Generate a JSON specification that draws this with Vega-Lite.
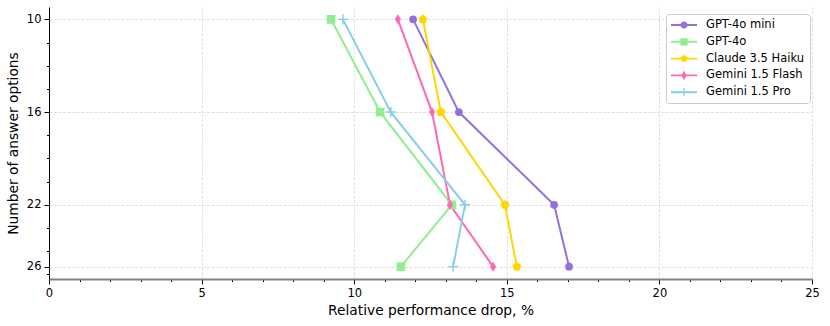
{
  "$schema": "https://vega.github.io/schema/vega-lite/v6.json",
  "width": 763,
  "height": 272,
  "autosize": {"type": "none"},
  "padding": {"left": 49, "top": 7, "right": 18, "bottom": 47},
  "background": "white",
  "config": {
    "view": {"stroke": null},
    "font": "DejaVu Sans",
    "axis": {
      "labelFont": "DejaVu Sans",
      "labelFontSize": 11.5,
      "labelColor": "#000000",
      "titleFont": "DejaVu Sans",
      "titleFontSize": 13.8,
      "titleFontWeight": "normal",
      "titleColor": "#000000",
      "tickColor": "#000000",
      "gridColor": "#dedede",
      "gridDash": [3, 1.5],
      "gridWidth": 0.9
    }
  },
  "data": {
    "values": [
      {"model": "GPT-4o mini", "options": 10, "drop": 11.93},
      {"model": "GPT-4o mini", "options": 16, "drop": 13.43},
      {"model": "GPT-4o mini", "options": 22, "drop": 16.55},
      {"model": "GPT-4o mini", "options": 26, "drop": 17.04},
      {"model": "GPT-4o", "options": 10, "drop": 9.24},
      {"model": "GPT-4o", "options": 16, "drop": 10.85},
      {"model": "GPT-4o", "options": 22, "drop": 13.2},
      {"model": "GPT-4o", "options": 26, "drop": 11.53},
      {"model": "Claude 3.5 Haiku", "options": 10, "drop": 12.25},
      {"model": "Claude 3.5 Haiku", "options": 16, "drop": 12.84},
      {"model": "Claude 3.5 Haiku", "options": 22, "drop": 14.94},
      {"model": "Claude 3.5 Haiku", "options": 26, "drop": 15.33},
      {"model": "Gemini 1.5 Flash", "options": 10, "drop": 11.43},
      {"model": "Gemini 1.5 Flash", "options": 16, "drop": 12.55},
      {"model": "Gemini 1.5 Flash", "options": 22, "drop": 13.14},
      {"model": "Gemini 1.5 Flash", "options": 26, "drop": 14.55},
      {"model": "Gemini 1.5 Pro", "options": 10, "drop": 9.63},
      {"model": "Gemini 1.5 Pro", "options": 16, "drop": 11.2},
      {"model": "Gemini 1.5 Pro", "options": 22, "drop": 13.63},
      {"model": "Gemini 1.5 Pro", "options": 26, "drop": 13.24}
    ]
  },
  "encoding": {
    "x": {
      "field": "drop",
      "type": "quantitative",
      "title": "Relative performance drop, %",
      "scale": {"domain": [0, 25], "nice": false, "zero": false},
      "axis": {
        "values": [0,1,2,3,4,5,6,7,8,9,10,11,12,13,14,15,16,17,18,19,20,21,22,23,24,25],
        "labelExpr": "datum.value % 5 === 0 ? datum.label : ''",
        "tickSize": {"condition": {"test": "datum.value % 5 === 0", "value": 5}, "value": 2.5},
        "gridOpacity": {"condition": {"test": "datum.value % 5 === 0", "value": 1}, "value": 0},
        "domainColor": "#808080",
        "domainWidth": 2.2,
        "labelPadding": 3,
        "titlePadding": 5,
        "labelFlush": false,
        "labelOverlap": false
      }
    },
    "y": {
      "field": "options",
      "type": "quantitative",
      "title": "Number of answer options",
      "scale": {"domain": [9.2, 26.8], "nice": false, "zero": false, "reverse": true},
      "axis": {
        "values": [10, 11.5, 13, 14.5, 16, 17.5, 19, 20.5, 22, 23.5, 25, 26, 26.5],
        "labelExpr": "(datum.value === 10 || datum.value === 16 || datum.value === 22 || datum.value === 26) ? datum.label : ''",
        "tickSize": {"condition": {"test": "datum.value === 10 || datum.value === 16 || datum.value === 22 || datum.value === 26", "value": 5}, "value": 2.5},
        "gridOpacity": {"condition": {"test": "datum.value === 10 || datum.value === 16 || datum.value === 22 || datum.value === 26", "value": 1}, "value": 0},
        "domainColor": "#000000",
        "domainWidth": 1,
        "labelPadding": 3,
        "titlePadding": 6,
        "labelOverlap": false,
        "labelFlush": false
      }
    },
    "color": {
      "field": "model",
      "type": "nominal",
      "scale": {
        "domain": ["GPT-4o mini", "GPT-4o", "Claude 3.5 Haiku", "Gemini 1.5 Flash", "Gemini 1.5 Pro"],
        "range": ["#9370DB", "#90EE90", "#FFD700", "#FF69B4", "#87CEEB"]
      },
      "legend": {
        "title": null,
        "orient": "none",
        "legendX": 617,
        "legendY": 7,
        "padding": 5,
        "strokeColor": "#cccccc",
        "fillColor": "white",
        "cornerRadius": 3,
        "labelFont": "DejaVu Sans",
        "labelFontSize": 11.5,
        "labelColor": "#000000",
        "symbolSize": 144,
        "symbolOffset": 7,
        "labelOffset": 16,
        "rowPadding": 4.8,
        "encode": {
          "symbols": {
            "update": {
              "shape": {"signal": "datum.value === 'GPT-4o mini' ? 'M-2.17,-0.16H2.17V0.16H-2.17ZM0.6,0A0.6,0.6 0 1,1 -0.6,0A0.6,0.6 0 1,1 0.6,0Z' : datum.value === 'GPT-4o' ? 'M-2.17,-0.16H2.17V0.16H-2.17ZM-0.6,-0.6H0.6V0.6H-0.6Z' : datum.value === 'Claude 3.5 Haiku' ? 'M-2.17,-0.16H2.17V0.16H-2.17ZM0,-0.65L0.618,-0.201L0.382,0.526L-0.382,0.526L-0.618,-0.201Z' : datum.value === 'Gemini 1.5 Flash' ? 'M-2.17,-0.16H2.17V0.16H-2.17ZM0,-0.8L0.43,0L0,0.8L-0.43,0Z' : 'M-2.17,-0.16H2.17V0.16H-2.17ZM-0.1,-0.69H0.1V0.69H-0.1Z'"},
              "size": {"value": 144},
              "fill": {"signal": "scale('color', datum.value)"},
              "fillOpacity": {"value": 1},
              "opacity": {"value": 1},
              "strokeWidth": {"value": 0}
            }
          }
        }
      }
    }
  },
  "layer": [
    {
      "mark": {"type": "line", "strokeWidth": 2},
      "encoding": {"order": {"field": "options", "type": "quantitative"}}
    },
    {
      "mark": {"type": "point", "filled": true, "opacity": 1},
      "encoding": {
        "shape": {
          "condition": [
            {"test": "datum.model === 'GPT-4o mini'", "value": "circle"},
            {"test": "datum.model === 'GPT-4o'", "value": "square"},
            {"test": "datum.model === 'Claude 3.5 Haiku'", "value": "M0,-1L0.951,-0.309L0.588,0.809L-0.588,0.809L-0.951,-0.309Z"},
            {"test": "datum.model === 'Gemini 1.5 Flash'", "value": "M0,-1L0.6,0L0,1L-0.6,0Z"}
          ],
          "value": "M-1,-0.14H1V0.14H-1ZM-0.14,-1H0.14V1H-0.14Z"
        },
        "size": {
          "condition": [
            {"test": "datum.model === 'GPT-4o mini'", "value": 60},
            {"test": "datum.model === 'GPT-4o'", "value": 75},
            {"test": "datum.model === 'Claude 3.5 Haiku'", "value": 90}
          ],
          "value": 105
        }
      }
    }
  ]
}
